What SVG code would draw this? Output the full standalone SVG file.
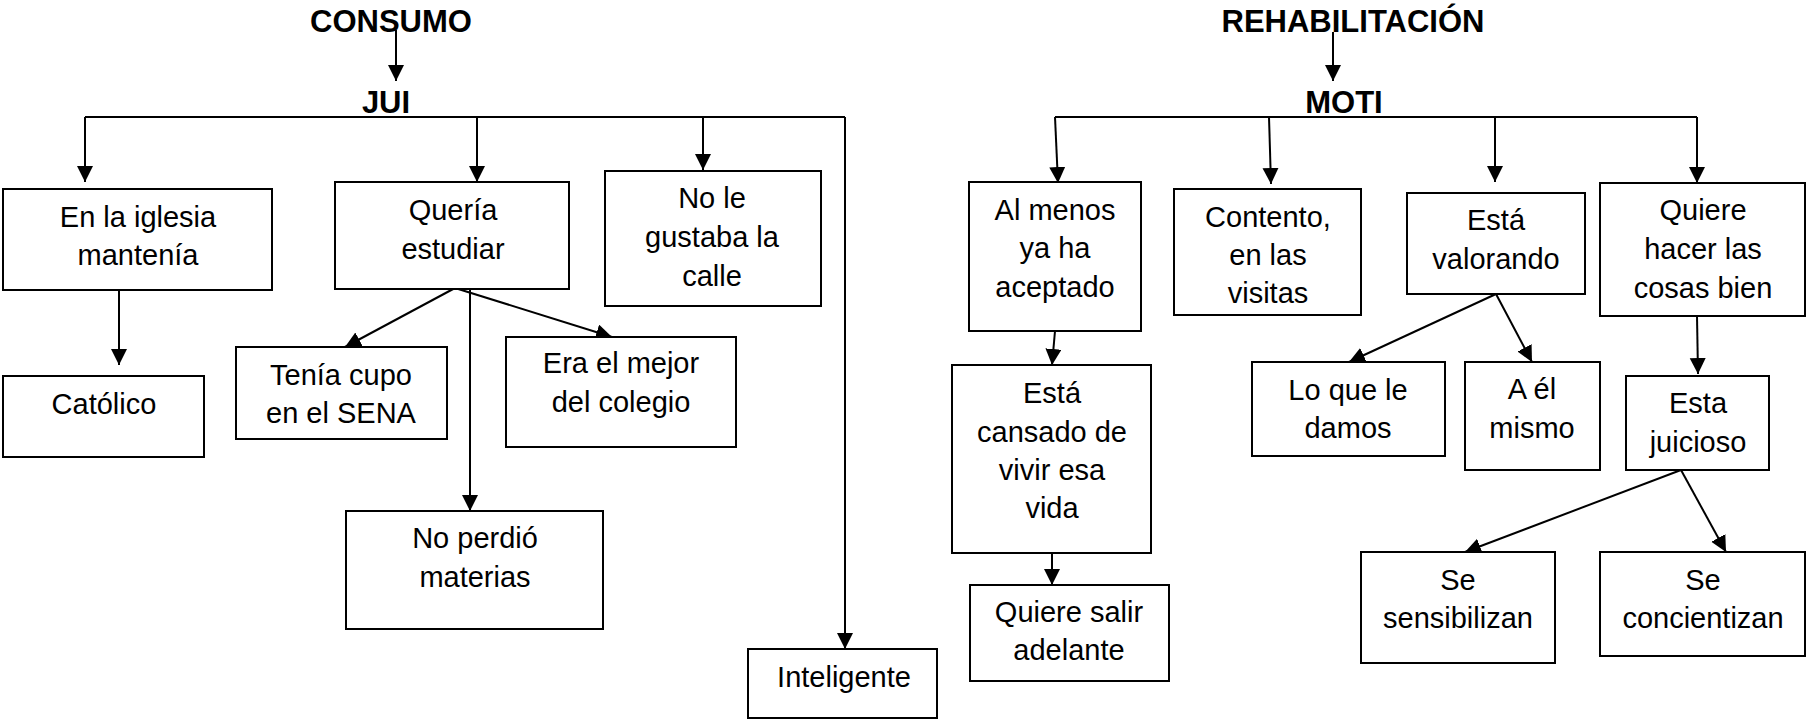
<svg xmlns="http://www.w3.org/2000/svg" width="1807" height="722" viewBox="0 0 1807 722">
<style>
  .box { fill: #fff; stroke: #000; stroke-width: 2; }
  .t { font-family: "Liberation Sans", Arial, sans-serif; font-size: 29px; fill: #000; text-anchor: middle; }
  .h { font-family: "Liberation Sans", Arial, sans-serif; font-size: 31px; font-weight: bold; fill: #000; text-anchor: middle; }
  .c { stroke: #000; stroke-width: 2; fill: none; }
  .a { stroke: #000; stroke-width: 2; fill: none; marker-end: url(#arr); }
</style>
<defs>
  <marker id="arr" markerUnits="userSpaceOnUse" markerWidth="18" markerHeight="18" refX="16" refY="8" orient="auto">
    <path d="M0,0 L16,8 L0,16 z" fill="#000"/>
  </marker>
</defs>
<rect width="1807" height="722" fill="#fff"/>

<g id="connectors">
  <!-- left tree -->
  <line class="a" x1="396" y1="30" x2="396" y2="81"/>
  <line class="c" x1="85" y1="117" x2="845" y2="117"/>
  <line class="a" x1="85" y1="117" x2="85" y2="182"/>
  <line class="a" x1="477" y1="117" x2="477" y2="182"/>
  <line class="a" x1="703" y1="117" x2="703" y2="170"/>
  <line class="a" x1="845" y1="117" x2="845" y2="649"/>
  <line class="a" x1="119" y1="290" x2="119" y2="365"/>
  <line class="a" x1="455" y1="288" x2="345" y2="347"/>
  <line class="a" x1="455" y1="288" x2="612" y2="337"/>
  <line class="a" x1="470" y1="289" x2="470" y2="511"/>
  <!-- right tree -->
  <line class="a" x1="1333" y1="32" x2="1333" y2="81"/>
  <line class="c" x1="1055" y1="117" x2="1697" y2="117"/>
  <line class="a" x1="1055" y1="117" x2="1058" y2="183"/>
  <line class="a" x1="1269" y1="117" x2="1271" y2="184"/>
  <line class="a" x1="1495" y1="117" x2="1495" y2="182"/>
  <line class="a" x1="1697" y1="117" x2="1697" y2="183"/>
  <line class="a" x1="1055" y1="331" x2="1052" y2="365"/>
  <line class="a" x1="1052" y1="553" x2="1052" y2="585"/>
  <line class="a" x1="1496" y1="294" x2="1349" y2="362"/>
  <line class="a" x1="1496" y1="294" x2="1532" y2="362"/>
  <line class="a" x1="1697" y1="316" x2="1698" y2="374"/>
  <line class="a" x1="1681" y1="470" x2="1465" y2="552"/>
  <line class="a" x1="1681" y1="470" x2="1726" y2="552"/>
</g>

<g id="consumo"><text class="h" x="391" y="32">CONSUMO</text></g>
<g id="jui"><text class="h" x="386" y="113">JUI</text></g>
<g id="rehabilitacion"><text class="h" x="1353" y="32">REHABILITACIÓN</text></g>
<g id="moti"><text class="h" x="1344" y="113">MOTI</text></g>

<g id="iglesia"><rect class="box" x="3" y="189" width="269" height="101"/>
  <text class="t" x="138" y="227">En la iglesia</text><text class="t" x="138" y="265">mantenía</text></g>
<g id="queria"><rect class="box" x="335" y="182" width="234" height="107"/>
  <text class="t" x="453" y="220">Quería</text><text class="t" x="453" y="259">estudiar</text></g>
<g id="nolegustaba"><rect class="box" x="605" y="171" width="216" height="135"/>
  <text class="t" x="712" y="208">No le</text><text class="t" x="712" y="247">gustaba la</text><text class="t" x="712" y="286">calle</text></g>
<g id="catolico"><rect class="box" x="3" y="376" width="201" height="81"/>
  <text class="t" x="104" y="414">Católico</text></g>
<g id="tenia"><rect class="box" x="236" y="347" width="211" height="92"/>
  <text class="t" x="341" y="385">Tenía cupo</text><text class="t" x="341" y="423">en el SENA</text></g>
<g id="era"><rect class="box" x="506" y="337" width="230" height="110"/>
  <text class="t" x="621" y="373">Era el mejor</text><text class="t" x="621" y="412">del colegio</text></g>
<g id="noperdio"><rect class="box" x="346" y="511" width="257" height="118"/>
  <text class="t" x="475" y="548">No perdió</text><text class="t" x="475" y="587">materias</text></g>
<g id="inteligente"><rect class="box" x="748" y="649" width="189" height="69"/>
  <text class="t" x="844" y="687">Inteligente</text></g>

<g id="almenos"><rect class="box" x="969" y="182" width="172" height="149"/>
  <text class="t" x="1055" y="220">Al menos</text><text class="t" x="1055" y="258">ya ha</text><text class="t" x="1055" y="297">aceptado</text></g>
<g id="contento"><rect class="box" x="1174" y="189" width="187" height="126"/>
  <text class="t" x="1268" y="227">Contento,</text><text class="t" x="1268" y="265">en las</text><text class="t" x="1268" y="303">visitas</text></g>
<g id="valorando"><rect class="box" x="1407" y="193" width="178" height="101"/>
  <text class="t" x="1496" y="230">Está</text><text class="t" x="1496" y="269">valorando</text></g>
<g id="quierehacer"><rect class="box" x="1600" y="183" width="205" height="133"/>
  <text class="t" x="1703" y="220">Quiere</text><text class="t" x="1703" y="259">hacer las</text><text class="t" x="1703" y="298">cosas bien</text></g>
<g id="cansado"><rect class="box" x="952" y="365" width="199" height="188"/>
  <text class="t" x="1052" y="403">Está</text><text class="t" x="1052" y="442">cansado de</text><text class="t" x="1052" y="480">vivir esa</text><text class="t" x="1052" y="518">vida</text></g>
<g id="salir"><rect class="box" x="970" y="585" width="199" height="96"/>
  <text class="t" x="1069" y="622">Quiere salir</text><text class="t" x="1069" y="660">adelante</text></g>
<g id="loquele"><rect class="box" x="1252" y="362" width="193" height="94"/>
  <text class="t" x="1348" y="400">Lo que le</text><text class="t" x="1348" y="438">damos</text></g>
<g id="ael"><rect class="box" x="1465" y="362" width="135" height="108"/>
  <text class="t" x="1532" y="399">A él</text><text class="t" x="1532" y="438">mismo</text></g>
<g id="juicioso"><rect class="box" x="1626" y="376" width="143" height="94"/>
  <text class="t" x="1698" y="413">Esta</text><text class="t" x="1698" y="452">juicioso</text></g>
<g id="sensibilizan"><rect class="box" x="1361" y="552" width="194" height="111"/>
  <text class="t" x="1458" y="590">Se</text><text class="t" x="1458" y="628">sensibilizan</text></g>
<g id="concientizan"><rect class="box" x="1600" y="552" width="205" height="104"/>
  <text class="t" x="1703" y="590">Se</text><text class="t" x="1703" y="628">concientizan</text></g>
</svg>
